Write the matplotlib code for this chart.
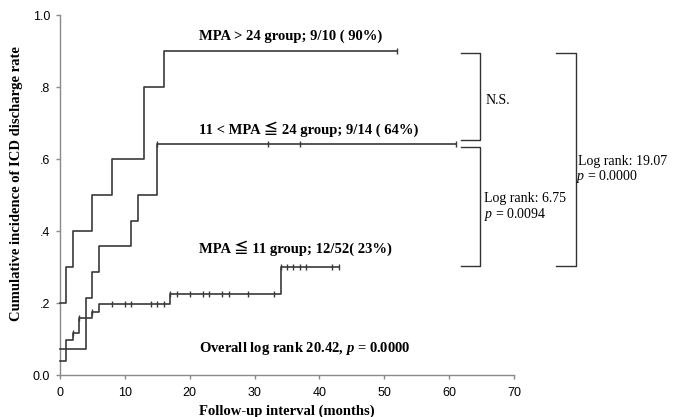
import matplotlib
matplotlib.use('Agg')

import matplotlib.pyplot as plt

# # # # # # # # # # # # # # # # # # # # # # # # # # # #
# data (months, cumulative rate)
# # # # # # # # # # # # # # # # # # # # # # # # # # # #
high_times = [0, 1, 2, 5, 8, 13, 16]
high_rates = [0.20, 0.30, 0.40, 0.50, 0.60, 0.80, 0.90]
high_end = 52
high_censored = [52]

mid_times = [0, 4, 5, 6, 11, 12, 15]
mid_rates = [0.071, 0.214, 0.286, 0.357, 0.429, 0.50, 0.643]
mid_end = 61
mid_censored = [15, 32, 37, 61]

low_times = [0, 1, 2, 3, 5, 6, 17, 34]
low_rates = [0.040, 0.098, 0.117, 0.157, 0.176, 0.197, 0.226, 0.30]
low_end = 43
low_censored = [2, 3, 5, 8, 10, 11, 14, 15, 16, 17, 18, 20, 22, 23, 25, 26,
                29, 33, 34, 35, 36, 37, 38, 42, 43]

group_labels = ['MPA > 24 group; 9/10 ( 90%)',
                '11 < MPA \u2266 24 group; 9/14 ( 64%)',
                'MPA \u2266 11 group; 12/52( 23%)']

x_ticks = [0, 10, 20, 30, 40, 50, 60, 70]
y_ticks = [0.0, 0.2, 0.4, 0.6, 0.8, 1.0]
y_tick_labels = ['0.0', '.2', '.4', '.6', '.8', '1.0']

plt.rcParams['mathtext.fontset'] = 'custom'
plt.rcParams['mathtext.rm'] = 'Liberation Serif'
plt.rcParams['mathtext.it'] = 'Liberation Serif:italic'
plt.rcParams['mathtext.bf'] = 'Liberation Serif:bold'
plt.rcParams['mathtext.bfit'] = 'Liberation Serif:italic:bold'

# ≦ is not in Liberation Serif, so fall back to the CJK family
SERIF = ['Liberation Serif', 'Noto Sans CJK JP', 'DejaVu Sans']
LINE = '#3a3a3a'
AXIS = '#8a8a8a'


def value_at(times, rates, t):
    v = rates[0]
    for tt, r in zip(times, rates):
        if tt <= t:
            v = r
    return v


def draw_curve(ax, times, rates, end, censored):
    ax.step(times + [end], rates + [rates[-1]], where='post', color=LINE,
            lw=1.2, clip_on=False, zorder=3)
    ys = [value_at(times, rates, c) for c in censored]
    ax.plot(censored, ys, ls='none', marker='|', ms=5, mew=1.0,
            color=LINE, clip_on=False, zorder=3)


def bracket(ax, x0, x1, y_top, y_bot):
    ax.plot([x0, x1, x1, x0], [y_top, y_top, y_bot, y_bot], color='#333333',
            lw=1.0, clip_on=False)


fig = plt.figure(figsize=(6.74, 4.17), dpi=100)
ax = fig.add_axes([60 / 674, 1 - 375 / 417, 454 / 674, 360 / 417])

draw_curve(ax, high_times, high_rates, high_end, high_censored)
draw_curve(ax, mid_times, mid_rates, mid_end, mid_censored)
draw_curve(ax, low_times, low_rates, low_end, low_censored)

ax.set_xlim(0, 70)
ax.set_ylim(0, 1.0)
ax.set_xticks(x_ticks)
ax.set_yticks(y_ticks)
ax.set_yticklabels(y_tick_labels)
for s in ['top', 'right']:
    ax.spines[s].set_visible(False)
for s in ['left', 'bottom']:
    ax.spines[s].set_color(AXIS)
    ax.spines[s].set_linewidth(1.0)
ax.tick_params(axis='both', colors=AXIS, labelcolor='black', labelsize=9,
               length=3, width=1.0, labelfontfamily='Liberation Sans')
ax.tick_params(axis='y', pad=4)
ax.tick_params(axis='x', pad=6)

# group labels
ax.text(21.5, 0.932, group_labels[0], family=SERIF, weight='bold', fontsize=10.5)
ax.text(21.5, 0.669, group_labels[1], family=SERIF, weight='bold', fontsize=10.5)
ax.text(21.5, 0.340, group_labels[2], family=SERIF, weight='bold', fontsize=10.5)
ax.text(21.5, 0.064, r'Overall log rank 20.42, $\mathbfit{p}$ = 0.0000',
        family=SERIF, weight='bold', fontsize=10.5)

# log rank brackets, drawn at the final curve levels
bracket(ax, 61.8, 64.7, high_rates[-1] - 0.005, mid_rates[-1] + 0.01)
bracket(ax, 61.8, 64.7, mid_rates[-1] - 0.009, low_rates[-1] + 0.003)
bracket(ax, 76.5, 79.5, high_rates[-1] - 0.005, low_rates[-1] + 0.003)

ax.text(65.6, 0.753, 'N.S.', family=SERIF, fontsize=10, clip_on=False)
ax.text(65.3, 0.480, 'Log rank: 6.75', family=SERIF, fontsize=10)
ax.text(65.3, 0.437, r'$p$ = 0.0094', family=SERIF, fontsize=10)
ax.text(79.9, 0.583, 'Log rank: 19.07', family=SERIF, fontsize=10)
ax.text(79.6, 0.543, r'$p$ = 0.0000', family=SERIF, fontsize=10)

# axis titles
ax.text(0.5, -0.111, 'Follow-up interval (months)', transform=ax.transAxes,
        ha='center', va='baseline', family=SERIF, weight='bold', fontsize=10.5)
ax.text(-0.095, 0.532, 'Cumulative incidence of ICD discharge rate',
        transform=ax.transAxes, rotation=90, ha='center', va='center',
        family=SERIF, weight='bold', fontsize=10.5)

fig.savefig('out.png', dpi=100)
